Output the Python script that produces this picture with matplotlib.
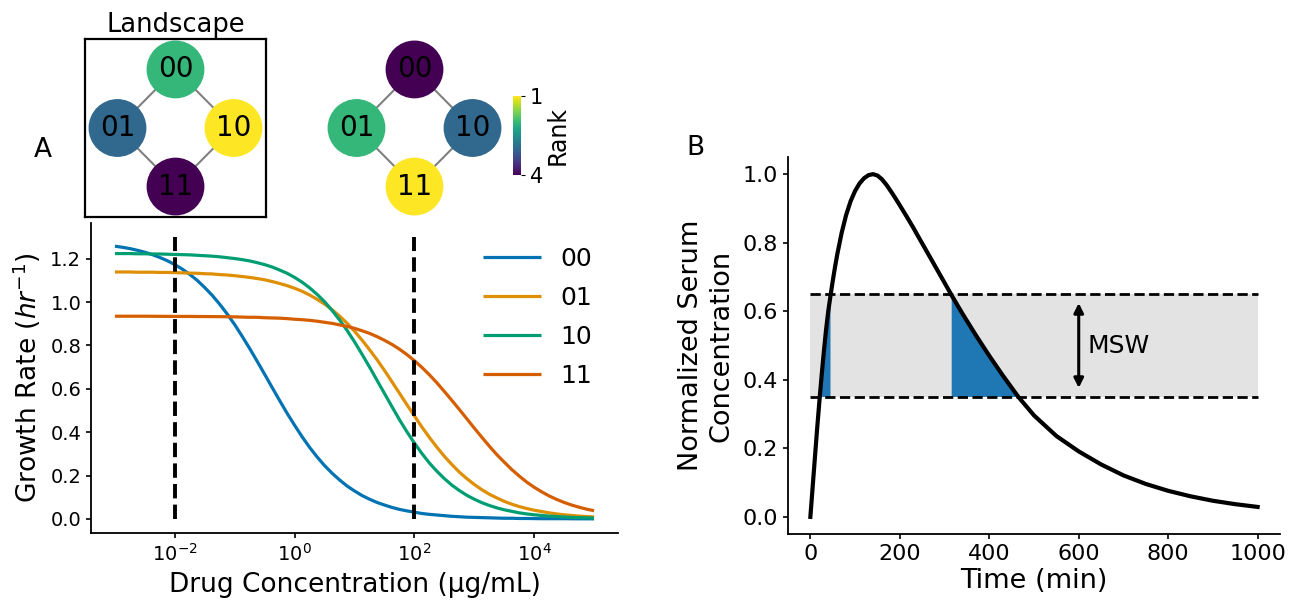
import matplotlib
matplotlib.use('Agg')
import matplotlib.pyplot as plt
import numpy as np
from matplotlib.colors import Normalize
from matplotlib.cm import ScalarMappable
from matplotlib.ticker import NullLocator

# ---- data ----
genotypes = ['00', '01', '10', '11']
line_colors = ['#0173b2', '#de8f05', '#029e73', '#d55e00']

# log10 of drug concentration (ug/mL), every 1/8 decade
log_conc = [-3.0, -2.875, -2.75, -2.625, -2.5, -2.375, -2.25, -2.125,
            -2.0, -1.875, -1.75, -1.625, -1.5, -1.375, -1.25, -1.125,
            -1.0, -0.875, -0.75, -0.625, -0.5, -0.375, -0.25, -0.125,
            0.0, 0.125, 0.25, 0.375, 0.5, 0.625, 0.75, 0.875,
            1.0, 1.125, 1.25, 1.375, 1.5, 1.625, 1.75, 1.875,
            2.0, 2.125, 2.25, 2.375, 2.5, 2.625, 2.75, 2.875,
            3.0, 3.125, 3.25, 3.375, 3.5, 3.625, 3.75, 3.875,
            4.0, 4.125, 4.25, 4.375, 4.5, 4.625, 4.75, 4.875, 5.0]
growth_00 = [1.258, 1.253, 1.247, 1.239, 1.230, 1.219, 1.206, 1.191,
             1.173, 1.152, 1.128, 1.100, 1.067, 1.031, 0.990, 0.945,
             0.896, 0.842, 0.786, 0.727, 0.667, 0.606, 0.546, 0.487,
             0.432, 0.379, 0.330, 0.286, 0.246, 0.211, 0.180, 0.152,
             0.129, 0.108, 0.091, 0.076, 0.064, 0.053, 0.044, 0.037,
             0.031, 0.025, 0.021, 0.018, 0.015, 0.012, 0.010, 0.008,
             0.007, 0.006, 0.005, 0.004, 0.003, 0.003, 0.002, 0.002,
             0.0015, 0.001, 0.001, 0.001, 0.001, 0.0007, 0.0005, 0.0004, 0.0003]
growth_01 = [1.139, 1.139, 1.139, 1.138, 1.138, 1.138, 1.137, 1.137,
             1.136, 1.135, 1.134, 1.133, 1.131, 1.130, 1.127, 1.125,
             1.122, 1.118, 1.114, 1.109, 1.103, 1.095, 1.086, 1.076,
             1.064, 1.050, 1.033, 1.013, 0.991, 0.965, 0.936, 0.903,
             0.866, 0.825, 0.781, 0.735, 0.685, 0.633, 0.580, 0.527,
             0.475, 0.424, 0.376, 0.331, 0.289, 0.251, 0.216, 0.186,
             0.159, 0.135, 0.114, 0.097, 0.081, 0.068, 0.057, 0.048,
             0.040, 0.034, 0.028, 0.023, 0.019, 0.016, 0.013, 0.011, 0.009]
growth_10 = [1.224, 1.224, 1.224, 1.223, 1.223, 1.222, 1.222, 1.221,
             1.220, 1.219, 1.218, 1.216, 1.214, 1.212, 1.209, 1.205,
             1.201, 1.196, 1.190, 1.182, 1.173, 1.162, 1.148, 1.133,
             1.114, 1.092, 1.066, 1.036, 1.002, 0.962, 0.918, 0.870,
             0.817, 0.760, 0.701, 0.640, 0.579, 0.518, 0.458, 0.402,
             0.350, 0.302, 0.258, 0.220, 0.186, 0.156, 0.131, 0.109,
             0.091, 0.075, 0.062, 0.051, 0.042, 0.035, 0.028, 0.023,
             0.019, 0.016, 0.013, 0.011, 0.009, 0.007, 0.006, 0.005, 0.004]
growth_11 = [0.935, 0.935, 0.935, 0.935, 0.935, 0.9347, 0.9345, 0.9343,
             0.934, 0.934, 0.934, 0.9337, 0.9335, 0.9332, 0.933, 0.9325,
             0.932, 0.931, 0.930, 0.930, 0.928, 0.927, 0.926, 0.924,
             0.921, 0.919, 0.916, 0.912, 0.907, 0.902, 0.895, 0.888,
             0.879, 0.868, 0.856, 0.841, 0.824, 0.805, 0.783, 0.758,
             0.730, 0.699, 0.665, 0.628, 0.588, 0.547, 0.505, 0.462,
             0.419, 0.377, 0.336, 0.297, 0.262, 0.228, 0.198, 0.170,
             0.146, 0.125, 0.106, 0.090, 0.076, 0.064, 0.054, 0.045, 0.038]
marked_conc = [1e-2, 1e2]

# landscape graph (hypercube) and fitness ranks at the two marked concentrations
node_x = [0, -1, 1, 0]
node_y = [1, 0, 0, -1]
edges = [('00', '01'), ('00', '10'), ('01', '11'), ('10', '11')]
rank_low = [2, 3, 1, 4]
rank_high = [4, 2, 3, 1]

# pharmacokinetic curve
time_min = [0, 5, 10, 15, 21, 25, 30, 35, 40, 45,
            50, 55, 60, 70, 80, 90, 100, 110, 120, 130,
            140, 150, 160, 170, 180, 190, 200, 215, 230, 246,
            260, 280, 300, 316, 340, 370, 400, 430, 465, 500,
            550, 600, 650, 700, 750, 800, 850, 900, 950, 1000]
serum = [0, 0.085, 0.17, 0.255, 0.35, 0.41, 0.48, 0.545, 0.60, 0.645,
         0.688, 0.728, 0.765, 0.829, 0.881, 0.921, 0.951, 0.973, 0.988, 0.997,
         1.0, 0.996, 0.985, 0.969, 0.95, 0.93, 0.909, 0.877, 0.844, 0.807,
         0.775, 0.729, 0.683, 0.646, 0.593, 0.53, 0.47, 0.413, 0.35, 0.296,
         0.236, 0.191, 0.153, 0.121, 0.096, 0.076, 0.06, 0.047, 0.037, 0.029]
msw_low, msw_high = 0.35, 0.65

W, H = 1303, 609
fig = plt.figure(figsize=(W / 100, H / 100), dpi=100)


def px_axes(x0, y0, x1, y1):
    return fig.add_axes([x0 / W, 1 - y1 / H, (x1 - x0) / W, (y1 - y0) / H])


norm = Normalize(1, 4)
cmap = plt.get_cmap('viridis_r')


def draw_graph(ax, ranks):
    pos = {g: (x, y) for g, x, y in zip(genotypes, node_x, node_y)}
    for a, b in edges:
        ax.plot([pos[a][0], pos[b][0]], [pos[a][1], pos[b][1]], color='grey', lw=1.5, zorder=1)
    ax.scatter(node_x, node_y, s=1650, c=[cmap(norm(r)) for r in ranks], zorder=2)
    for g, x, y in zip(genotypes, node_x, node_y):
        ax.text(x, y, g, ha='center', va='center', fontsize=20, zorder=3)
    ax.set_xlim(-1.56, 1.56)
    ax.set_ylim(-1.52, 1.52)
    ax.set_xticks([])
    ax.set_yticks([])


#### landscape graphs ####
ax_g1 = px_axes(85, 39, 266, 217)
draw_graph(ax_g1, rank_low)
for s in ax_g1.spines.values():
    s.set_linewidth(1.6)
ax_g1.set_title('Landscape', fontsize=18.5, pad=5)

ax_g2 = px_axes(324, 39, 505, 217)
draw_graph(ax_g2, rank_high)
ax_g2.axis('off')

cax = px_axes(513, 96, 521, 175)
cb = fig.colorbar(ScalarMappable(norm=norm, cmap=cmap), cax=cax, ticks=[1, 4])
cax.invert_yaxis()
cb.outline.set_visible(False)
cax.tick_params(labelsize=15, length=3)
cb.set_label('Rank', fontsize=17, labelpad=2)

#### panel A: dose response ####
axA = px_axes(91, 223, 618, 533)
conc = 10 ** np.array(log_conc)
for g, vals, col in zip(genotypes, [growth_00, growth_01, growth_10, growth_11], line_colors):
    axA.plot(conc, vals, color=col, lw=2.3, label=g, solid_capstyle='butt')
for c in marked_conc:
    axA.plot([c, c], [0, 1.3], 'k--', lw=2.8)
axA.set_xscale('log')
axA.set_xticks([1e-2, 1e0, 1e2, 1e4])
axA.xaxis.set_minor_locator(NullLocator())
axA.set_yticks([0.0, 0.2, 0.4, 0.6, 0.8, 1.0, 1.2])
axA.tick_params(labelsize=14, width=1.2)
axA.spines['top'].set_visible(False)
axA.spines['right'].set_visible(False)
for s in ['left', 'bottom']:
    axA.spines[s].set_linewidth(1.3)
axA.set_xlabel('Drug Concentration (µg/mL)', fontsize=19, labelpad=5)
axA.set_ylabel('Growth Rate ($hr^{-1}$)', fontsize=19, labelpad=5)
axA.legend(loc='upper left', bbox_to_anchor=(0.725, 0.955), borderaxespad=0,
           frameon=False, fontsize=18, handlelength=2.3, labelspacing=0.6)

#### panel B: pharmacokinetics ####
axB = px_axes(788, 157, 1280, 534)
t = np.array(time_min)
cser = np.array(serum)
axB.fill_between([0, 1000], msw_low, msw_high, color='#e3e3e3', lw=0)
axB.fill_between(t, msw_low, cser, where=(cser >= msw_low) & (cser <= msw_high),
                 color='#1f77b4', lw=0)
axB.plot([0, 1000], [msw_low, msw_low], 'k--', lw=2)
axB.plot([0, 1000], [msw_high, msw_high], 'k--', lw=2)
axB.plot(t, cser, 'k', lw=3, solid_joinstyle='round')
axB.annotate('', xy=(600, 0.632), xytext=(600, 0.368),
             arrowprops=dict(arrowstyle='<|-|>', color='k', lw=2.2, mutation_scale=14))
axB.text(620, 0.5, 'MSW', fontsize=18, va='center', ha='left')
axB.set_xticks([0, 200, 400, 600, 800, 1000])
axB.set_yticks([0.0, 0.2, 0.4, 0.6, 0.8, 1.0])
axB.tick_params(labelsize=16, width=1.2)
axB.spines['top'].set_visible(False)
axB.spines['right'].set_visible(False)
for s in ['left', 'bottom']:
    axB.spines[s].set_linewidth(1.3)
axB.set_xlabel('Time (min)', fontsize=19.5, labelpad=3)
axB.set_ylabel('Normalized Serum\nConcentration', fontsize=19.5, labelpad=6)

fig.text(43 / W, 1 - 150 / H, 'A', fontsize=19, ha='center', va='center')
fig.text(695 / W, 1 - 148 / H, 'B', fontsize=19, ha='center', va='center')

fig.savefig('out.png', dpi=100)
